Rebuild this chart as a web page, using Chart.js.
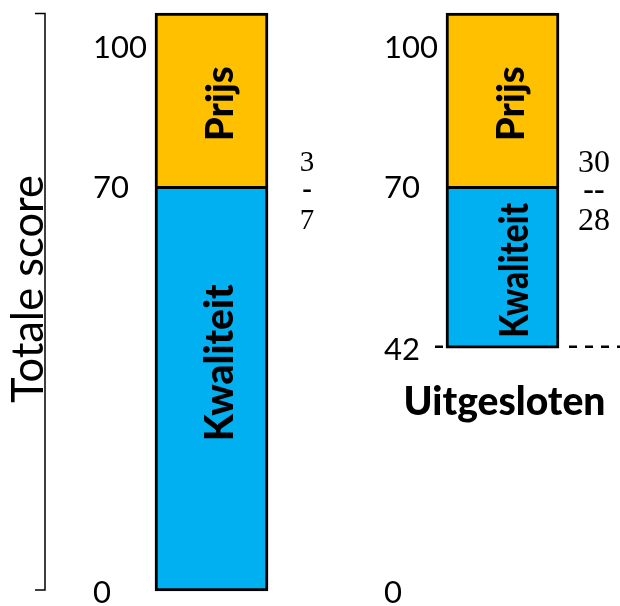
<!DOCTYPE html>
<html>
<head>
<meta charset="utf-8">
<script src="https://cdn.jsdelivr.net/npm/chart.js@4/dist/chart.umd.min.js"></script>
<style>
  html, body { margin: 0; padding: 0; background: #fff; }
  #wrap { width: 620px; height: 606px; }
</style>
</head>
<body>
<div id="wrap"><canvas id="c" width="620" height="606"></canvas></div>
<script>
// Score build-up per scenario: quality part and price part of the total score
const categories = ['Alle inschrijvingen', 'Met kwaliteitsdrempel'];
const kwaliteit = [[0, 70], [42, 70]];
const prijs = [[70, 100], [70, 100]];
const scoreTicks = [[0, 70, 100], [0, 42, 70, 100]];
const weightRatio = [['3', '-', '7'], ['30', '--', '28']];
const threshold = 42;
const thresholdLabel = 'Uitgesloten';
const axisTitle = 'Totale score';
const segmentNames = ['Kwaliteit', 'Prijs'];

const SANS = 'Lato, "Open Sans", sans-serif';
const SERIF = '"Liberation Serif", "DejaVu Serif", serif';

// font size that makes the text span the given width
function fitSize(ctx, text, weight, family, width) {
  ctx.font = weight + ' 100px ' + family;
  return 100 * width / ctx.measureText(text).width;
}

const decorations = {
  id: 'decorations',
  beforeDatasetsDraw(chart) {
    const ctx = chart.ctx;
    const y = chart.scales.y;
    const right = chart.getDatasetMeta(0).data[1];
    const bl = right.x - right.width / 2, br = right.x + right.width / 2;
    const ty = y.getPixelForValue(threshold) - 1.5;
    ctx.save();
    ctx.strokeStyle = '#000';
    ctx.lineWidth = 2.5;
    ctx.setLineDash([8, 8]);
    ctx.beginPath();
    ctx.moveTo(bl - 11, ty); ctx.lineTo(bl - 3, ty);
    ctx.moveTo(br + 10, ty); ctx.lineTo(chart.width, ty);
    ctx.stroke();
    ctx.setLineDash([]);

    // bracket along the total score range
    const top = y.getPixelForValue(100), bot = y.getPixelForValue(0);
    ctx.lineWidth = 1.5;
    ctx.strokeStyle = '#000';
    ctx.beginPath();
    ctx.moveTo(35, top + 0.5); ctx.lineTo(45, top + 0.5); ctx.lineTo(45, bot - 1);
    ctx.lineTo(35, bot - 1);
    ctx.stroke();
    ctx.restore();
  },
  afterDatasetsDraw(chart) {
    const ctx = chart.ctx;
    const y = chart.scales.y;
    const area = chart.chartArea;
    const bars = chart.getDatasetMeta(0).data;
    ctx.save();
    ctx.fillStyle = '#000';

    // axis title
    const titleSize = fitSize(ctx, axisTitle, '400', SANS, 228);
    ctx.font = '400 ' + titleSize + 'px ' + SANS;
    ctx.save();
    ctx.translate(43, 289);
    ctx.rotate(-Math.PI / 2);
    ctx.textAlign = 'center';
    ctx.textBaseline = 'alphabetic';
    ctx.fillText(axisTitle, 0, 0);
    ctx.restore();

    // score ticks beside each bar
    const tickSize = fitSize(ctx, '100', '400', SANS, 54);
    ctx.font = '400 ' + tickSize + 'px ' + SANS;
    ctx.textAlign = 'left';
    ctx.textBaseline = 'middle';
    bars.forEach((bar, i) => {
      const left = bar.x - bar.width / 2;
      scoreTicks[i].forEach(v => {
        const py = Math.max(y.getPixelForValue(v) + 2, area.top + 35);
        ctx.fillText(String(v), left - 62, py);
      });
    });

    // segment names inside the bars
    const kSize = fitSize(ctx, segmentNames[0], '900', SANS, 157);
    const pSize = fitSize(ctx, segmentNames[1], '900', SANS, 75);
    bars.forEach((bar, i) => {
      const midK = (y.getPixelForValue(kwaliteit[i][0]) + y.getPixelForValue(kwaliteit[i][1])) / 2;
      const midP = (y.getPixelForValue(prijs[i][0]) + y.getPixelForValue(prijs[i][1])) / 2;
      // in the tall bar the quality label sits a little above the middle;
      // in the short bar it is squeezed along its length
      const kShift = i === 0 ? -26 : 3;
      const kSqueeze = i === 0 ? 1 : 135 / 157;
      const kBase = i === 0 ? 21 : 25;
      [[segmentNames[0], kSize, midK + kShift, kSqueeze, kBase],
       [segmentNames[1], pSize, midP + 4, 1, 21]].forEach(([t, s, cy, sq, base]) => {
        ctx.save();
        ctx.font = '900 ' + s + 'px ' + SANS;
        ctx.translate(bar.x + base, cy);
        ctx.rotate(-Math.PI / 2);
        ctx.scale(sq, 1);
        ctx.textAlign = 'center';
        ctx.textBaseline = 'alphabetic';
        ctx.fillText(t, 0, 0);
        ctx.restore();
      });
    });

    // price : quality weight ratio
    const p70 = y.getPixelForValue(70);
    ctx.textAlign = 'center';
    ctx.textBaseline = 'middle';
    bars.forEach((bar, i) => {
      const rightEdge = bar.x + bar.width / 2;
      const size = i === 0 ? 29 : 32;
      const cx = rightEdge + (i === 0 ? 39 : 35);
      const [a, dash, b] = weightRatio[i];
      ctx.font = size + 'px ' + SERIF;
      ctx.fillText(a, cx, p70 - 23);
      ctx.fillText(b, cx, p70 + 35);
      ctx.font = 'bold ' + size + 'px ' + SERIF;
      ctx.fillText(dash, cx, p70 + 4);
    });

    // label under the threshold line
    const uSize = fitSize(ctx, thresholdLabel, '900', SANS, 202);
    ctx.font = '900 ' + uSize + 'px ' + SANS;
    ctx.textBaseline = 'alphabetic';
    ctx.fillText(thresholdLabel, bars[1].x + 2, 415);
    ctx.restore();
  }
};

new Chart(document.getElementById('c'), {
  type: 'bar',
  data: {
    labels: categories,
    datasets: [
      {
        label: segmentNames[0],
        data: kwaliteit,
        backgroundColor: '#00B0F0',
        borderColor: '#000',
        borderWidth: 3,
        borderSkipped: false,
        barThickness: 113,
        grouped: false,
        clip: false
      },
      {
        label: segmentNames[1],
        data: prijs,
        backgroundColor: '#FFC000',
        borderColor: '#000',
        borderWidth: { top: 3, left: 3, right: 3, bottom: 0 },
        borderSkipped: false,
        barThickness: 113,
        grouped: false,
        clip: false
      }
    ]
  },
  options: {
    responsive: false,
    animation: false,
    events: [],
    layout: { padding: { left: 211.5, right: 117.5, top: 13, bottom: 15 } },
    plugins: { legend: { display: false }, tooltip: { enabled: false } },
    scales: {
      x: { type: 'category', offset: false, display: false },
      y: { min: 0, max: 100, display: false }
    }
  },
  plugins: [decorations]
});
</script>
</body>
</html>
